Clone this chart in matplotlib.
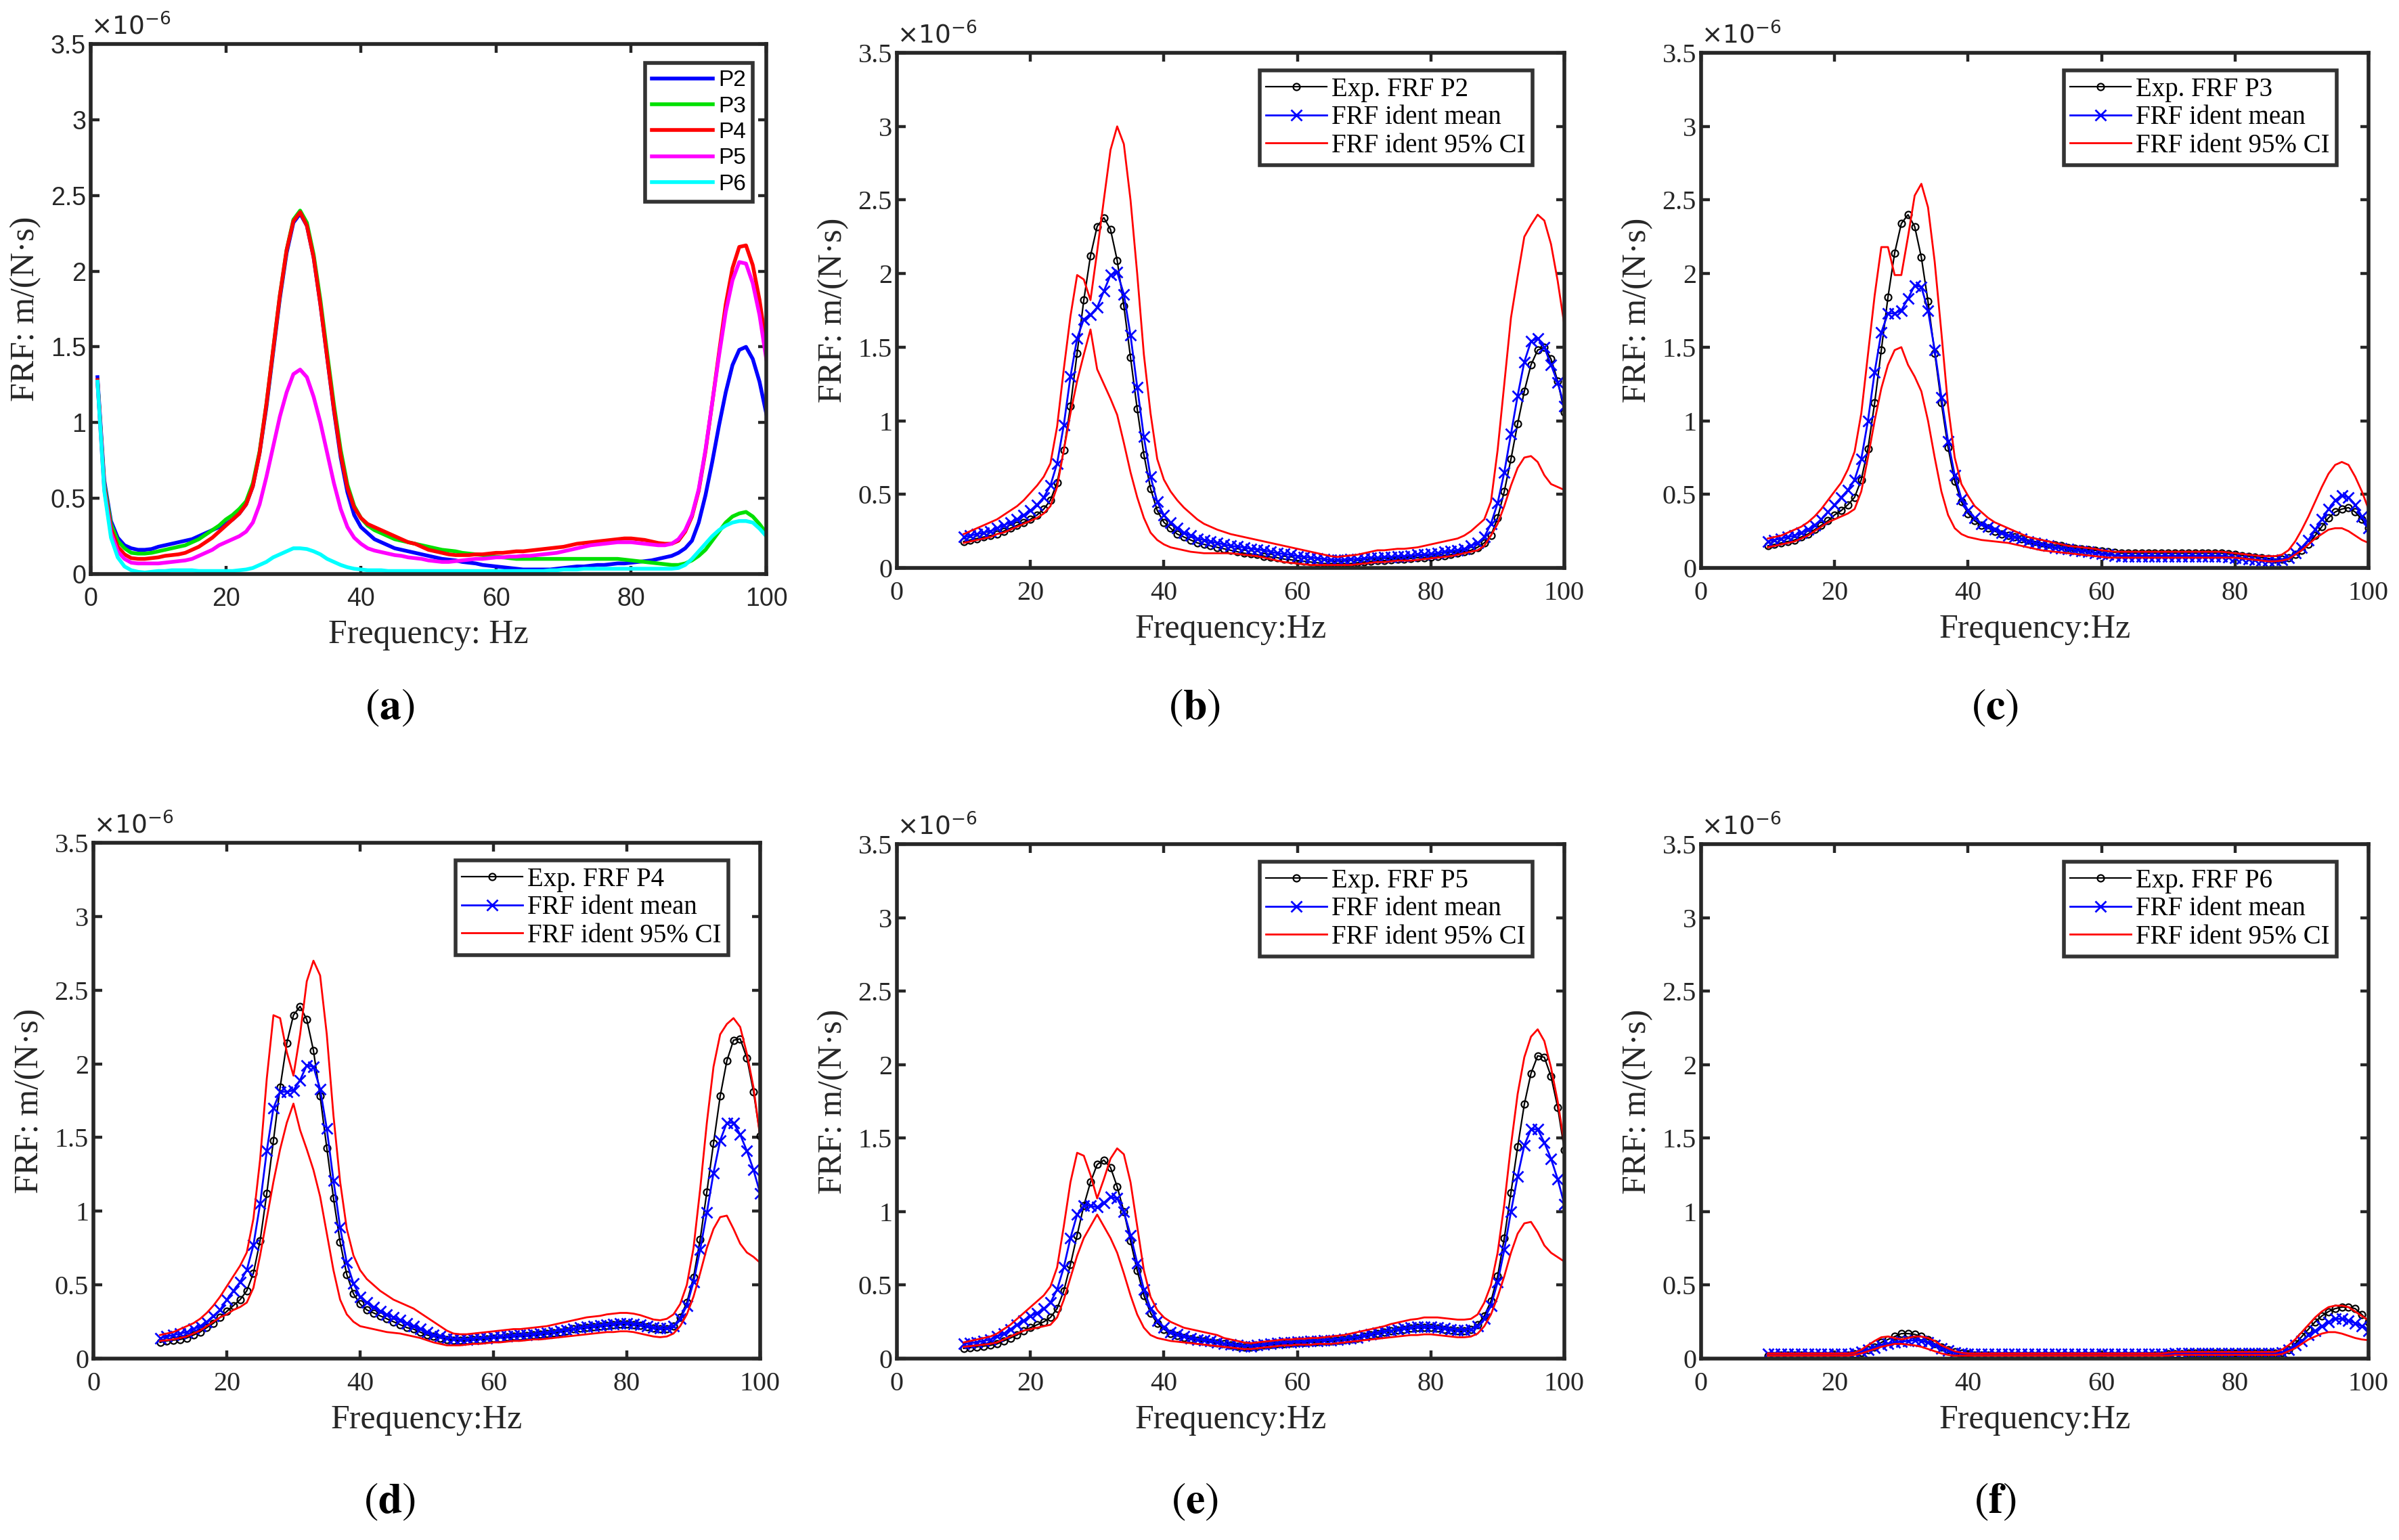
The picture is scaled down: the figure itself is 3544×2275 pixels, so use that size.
"""
Recreate the six-panel FRF comparison figure (experimental vs identified FRF, P2-P6).
"""

import matplotlib

matplotlib.use("Agg")

import matplotlib.pyplot as plt
import numpy as np
from matplotlib.ticker import FuncFormatter

# frequency grids [Hz]: panel (a) uses 1-100 Hz, panels (b)-(f) use 10-100 Hz
FREQ_FULL = np.arange(1, 101)
FREQ_ID = np.arange(10, 101)

# experimental FRF magnitudes, units of 1e-6 m/(N*s), 1..100 Hz
EXP_P2 = [
    1.30, 0.62, 0.35, 0.24, 0.19, 0.17, 0.16, 0.16, 0.165,
    0.18, 0.19, 0.20, 0.21, 0.22, 0.23, 0.25, 0.27, 0.29, 0.31,
    0.33, 0.36, 0.40, 0.46, 0.58, 0.80, 1.10, 1.46, 1.82, 2.12,
    2.32, 2.38, 2.30, 2.09, 1.78, 1.43, 1.08, 0.77, 0.54, 0.39,
    0.31, 0.27, 0.23, 0.21, 0.19, 0.17, 0.16, 0.15, 0.14, 0.13,
    0.12, 0.11, 0.10, 0.095, 0.09, 0.08, 0.075, 0.07, 0.06, 0.055,
    0.05, 0.045, 0.04, 0.035, 0.03, 0.03, 0.03, 0.03, 0.03, 0.035,
    0.04, 0.045, 0.05, 0.05, 0.055, 0.06, 0.06, 0.065, 0.07, 0.07,
    0.075, 0.08, 0.085, 0.09, 0.10, 0.11, 0.12, 0.14, 0.17, 0.22,
    0.34, 0.52, 0.74, 0.98, 1.20, 1.38, 1.48, 1.50, 1.42, 1.27,
    1.06,
]
EXP_P3 = [
    1.28, 0.60, 0.33, 0.22, 0.17, 0.14, 0.135, 0.135, 0.14,
    0.15, 0.16, 0.17, 0.18, 0.19, 0.21, 0.23, 0.26, 0.29, 0.32,
    0.36, 0.39, 0.43, 0.48, 0.60, 0.81, 1.12, 1.48, 1.84, 2.14,
    2.34, 2.40, 2.32, 2.11, 1.81, 1.46, 1.12, 0.82, 0.59, 0.45,
    0.37, 0.32, 0.29, 0.27, 0.25, 0.23, 0.22, 0.21, 0.20, 0.19,
    0.18, 0.17, 0.16, 0.155, 0.15, 0.14, 0.135, 0.13, 0.125, 0.12,
    0.115, 0.11, 0.105, 0.10, 0.10, 0.10, 0.10, 0.10, 0.10, 0.10,
    0.10, 0.10, 0.10, 0.10, 0.10, 0.10, 0.10, 0.10, 0.10, 0.095,
    0.09, 0.085, 0.08, 0.075, 0.07, 0.065, 0.06, 0.06, 0.07, 0.09,
    0.12, 0.16, 0.22, 0.28, 0.34, 0.38, 0.40, 0.41, 0.38, 0.33,
    0.27,
]
EXP_P4 = [
    1.28, 0.58, 0.30, 0.18, 0.13, 0.105, 0.10, 0.10, 0.105,
    0.11, 0.12, 0.125, 0.13, 0.14, 0.16, 0.18, 0.21, 0.24, 0.28,
    0.32, 0.36, 0.40, 0.46, 0.58, 0.80, 1.12, 1.48, 1.84, 2.14,
    2.33, 2.39, 2.30, 2.09, 1.78, 1.43, 1.09, 0.79, 0.57, 0.44,
    0.37, 0.33, 0.31, 0.29, 0.27, 0.25, 0.23, 0.21, 0.20, 0.18,
    0.16, 0.15, 0.14, 0.13, 0.125, 0.125, 0.125, 0.13, 0.13, 0.135,
    0.14, 0.14, 0.145, 0.15, 0.15, 0.155, 0.16, 0.165, 0.17, 0.175,
    0.18, 0.19, 0.20, 0.205, 0.21, 0.215, 0.22, 0.225, 0.23, 0.235,
    0.235, 0.23, 0.225, 0.215, 0.205, 0.20, 0.20, 0.22, 0.28, 0.38,
    0.55, 0.81, 1.13, 1.46, 1.78, 2.02, 2.16, 2.17, 2.04, 1.81,
    1.51,
]
EXP_P5 = [
    1.27, 0.56, 0.27, 0.15, 0.10, 0.075, 0.07, 0.07, 0.07,
    0.07, 0.075, 0.08, 0.085, 0.09, 0.10, 0.12, 0.14, 0.16, 0.19,
    0.21, 0.23, 0.25, 0.28, 0.34, 0.46, 0.64, 0.84, 1.04, 1.20,
    1.32, 1.35, 1.30, 1.17, 1.00, 0.80, 0.60, 0.43, 0.31, 0.24,
    0.20, 0.17, 0.155, 0.145, 0.135, 0.125, 0.12, 0.11, 0.105, 0.10,
    0.09, 0.085, 0.08, 0.08, 0.085, 0.09, 0.095, 0.10, 0.10, 0.105,
    0.11, 0.11, 0.115, 0.115, 0.12, 0.12, 0.125, 0.13, 0.135, 0.14,
    0.15, 0.16, 0.17, 0.18, 0.19, 0.195, 0.20, 0.205, 0.21, 0.21,
    0.21, 0.205, 0.20, 0.195, 0.19, 0.19, 0.20, 0.23, 0.29, 0.39,
    0.56, 0.82, 1.13, 1.44, 1.73, 1.94, 2.06, 2.05, 1.92, 1.71,
    1.42,
]
EXP_P6 = [
    1.27, 0.55, 0.24, 0.11, 0.05, 0.025, 0.015, 0.01, 0.015,
    0.02, 0.02, 0.025, 0.025, 0.025, 0.025, 0.02, 0.02, 0.02, 0.02,
    0.02, 0.02, 0.025, 0.03, 0.04, 0.06, 0.08, 0.11, 0.13, 0.15,
    0.17, 0.17, 0.165, 0.15, 0.13, 0.10, 0.08, 0.06, 0.045, 0.035,
    0.03, 0.025, 0.025, 0.025, 0.02, 0.02, 0.02, 0.02, 0.02, 0.02,
    0.02, 0.02, 0.02, 0.02, 0.02, 0.02, 0.02, 0.02, 0.02, 0.02,
    0.02, 0.02, 0.02, 0.02, 0.02, 0.02, 0.02, 0.02, 0.025, 0.025,
    0.03, 0.03, 0.03, 0.035, 0.035, 0.035, 0.035, 0.035, 0.035, 0.035,
    0.035, 0.035, 0.035, 0.035, 0.035, 0.035, 0.035, 0.04, 0.06, 0.10,
    0.15, 0.20, 0.25, 0.29, 0.32, 0.34, 0.35, 0.35, 0.34, 0.30,
    0.25,
]

# identified FRF mean and 95% CI bounds, 10..100 Hz
MEAN_P2 = [
    0.21, 0.22, 0.23, 0.24, 0.25, 0.27, 0.29, 0.31, 0.33, 0.36,
    0.39, 0.43, 0.48, 0.56, 0.71, 0.97, 1.30, 1.56, 1.69, 1.72,
    1.77, 1.88, 1.99, 2.01, 1.86, 1.58, 1.23, 0.89, 0.62, 0.45,
    0.36, 0.31, 0.27, 0.24, 0.22, 0.20, 0.19, 0.18, 0.17, 0.16,
    0.15, 0.145, 0.14, 0.13, 0.125, 0.12, 0.11, 0.10, 0.095, 0.09,
    0.08, 0.075, 0.07, 0.065, 0.06, 0.055, 0.055, 0.055, 0.06, 0.06,
    0.065, 0.07, 0.07, 0.075, 0.075, 0.08, 0.08, 0.085, 0.09, 0.09,
    0.095, 0.10, 0.11, 0.115, 0.12, 0.13, 0.15, 0.17, 0.21, 0.30,
    0.44, 0.65, 0.91, 1.17, 1.40, 1.54, 1.56, 1.50, 1.38, 1.26,
    1.10,
]
UP_P2 = [
    0.23, 0.25, 0.27, 0.29, 0.31, 0.33, 0.36, 0.39, 0.42, 0.46,
    0.51, 0.56, 0.62, 0.71, 0.96, 1.35, 1.71, 1.99, 1.96, 1.82,
    2.15, 2.50, 2.84, 3.00, 2.88, 2.50, 2.00, 1.45, 1.05, 0.74,
    0.60, 0.52, 0.46, 0.41, 0.37, 0.33, 0.30, 0.28, 0.26, 0.245,
    0.23, 0.22, 0.21, 0.20, 0.19, 0.18, 0.17, 0.16, 0.15, 0.14,
    0.13, 0.12, 0.11, 0.10, 0.09, 0.08, 0.075, 0.08, 0.085, 0.09,
    0.10, 0.11, 0.12, 0.12, 0.125, 0.13, 0.13, 0.135, 0.14, 0.15,
    0.16, 0.17, 0.18, 0.19, 0.20, 0.22, 0.25, 0.29, 0.33, 0.45,
    0.80, 1.25, 1.70, 1.98, 2.25, 2.33, 2.40, 2.36, 2.20, 1.95,
    1.65,
]
LO_P2 = [
    0.17, 0.18, 0.19, 0.20, 0.21, 0.23, 0.24, 0.26, 0.28, 0.30,
    0.32, 0.34, 0.37, 0.42, 0.55, 0.80, 1.05, 1.27, 1.45, 1.62,
    1.35, 1.25, 1.15, 1.04, 0.85, 0.65, 0.48, 0.34, 0.24, 0.19,
    0.16, 0.14, 0.13, 0.12, 0.11, 0.105, 0.10, 0.10, 0.10, 0.10,
    0.10, 0.095, 0.09, 0.085, 0.08, 0.07, 0.06, 0.05, 0.04, 0.035,
    0.03, 0.025, 0.02, 0.02, 0.02, 0.02, 0.02, 0.02, 0.02, 0.025,
    0.03, 0.035, 0.04, 0.04, 0.045, 0.05, 0.05, 0.05, 0.055, 0.06,
    0.065, 0.07, 0.075, 0.08, 0.09, 0.10, 0.11, 0.12, 0.15, 0.22,
    0.30, 0.42, 0.56, 0.68, 0.75, 0.76, 0.72, 0.63, 0.57, 0.55,
    0.53,
]
MEAN_P3 = [
    0.18, 0.19, 0.20, 0.21, 0.22, 0.24, 0.26, 0.29, 0.33, 0.38,
    0.43, 0.48, 0.53, 0.60, 0.74, 1.00, 1.33, 1.60, 1.73, 1.73,
    1.75, 1.83, 1.92, 1.91, 1.75, 1.48, 1.16, 0.86, 0.63, 0.47,
    0.39, 0.34, 0.30, 0.28, 0.26, 0.24, 0.22, 0.21, 0.20, 0.18,
    0.17, 0.16, 0.15, 0.14, 0.135, 0.13, 0.12, 0.115, 0.11, 0.10,
    0.095, 0.09, 0.085, 0.08, 0.08, 0.08, 0.08, 0.08, 0.08, 0.08,
    0.08, 0.08, 0.08, 0.08, 0.08, 0.08, 0.08, 0.08, 0.08, 0.075,
    0.07, 0.065, 0.06, 0.055, 0.05, 0.05, 0.05, 0.055, 0.07, 0.10,
    0.14, 0.19, 0.26, 0.33, 0.40, 0.46, 0.49, 0.48, 0.43, 0.35,
    0.27,
]
UP_P3 = [
    0.20, 0.21, 0.22, 0.24, 0.26, 0.28, 0.31, 0.35, 0.40, 0.46,
    0.52, 0.58, 0.67, 0.79, 1.05, 1.45, 1.85, 2.18, 2.18, 1.99,
    1.99, 2.25, 2.53, 2.61, 2.45, 2.08, 1.60, 1.10, 0.75, 0.57,
    0.49, 0.42, 0.38, 0.34, 0.31, 0.29, 0.27, 0.25, 0.23, 0.21,
    0.20, 0.19, 0.18, 0.17, 0.16, 0.15, 0.145, 0.14, 0.135, 0.13,
    0.12, 0.115, 0.11, 0.11, 0.11, 0.11, 0.11, 0.11, 0.11, 0.11,
    0.11, 0.11, 0.11, 0.11, 0.11, 0.11, 0.11, 0.11, 0.11, 0.105,
    0.10, 0.095, 0.09, 0.085, 0.08, 0.08, 0.08, 0.09, 0.12, 0.18,
    0.26, 0.35, 0.45, 0.55, 0.64, 0.70, 0.72, 0.70, 0.62, 0.52,
    0.40,
]
LO_P3 = [
    0.14, 0.15, 0.16, 0.17, 0.18, 0.20, 0.22, 0.25, 0.28, 0.31,
    0.33, 0.35, 0.37, 0.40, 0.52, 0.75, 1.00, 1.22, 1.38, 1.48,
    1.50, 1.38, 1.30, 1.20, 1.00, 0.75, 0.52, 0.36, 0.27, 0.23,
    0.21, 0.20, 0.19, 0.185, 0.18, 0.175, 0.17, 0.16, 0.15, 0.14,
    0.13, 0.12, 0.115, 0.11, 0.105, 0.10, 0.095, 0.09, 0.085, 0.08,
    0.075, 0.07, 0.07, 0.07, 0.07, 0.07, 0.07, 0.07, 0.07, 0.07,
    0.07, 0.07, 0.07, 0.07, 0.07, 0.07, 0.07, 0.07, 0.07, 0.07,
    0.07, 0.065, 0.06, 0.055, 0.05, 0.045, 0.045, 0.05, 0.06, 0.09,
    0.12, 0.16, 0.20, 0.23, 0.26, 0.27, 0.27, 0.25, 0.22, 0.19,
    0.17,
]
MEAN_P4 = [
    0.14, 0.15, 0.16, 0.17, 0.18, 0.20, 0.22, 0.25, 0.29, 0.33,
    0.40, 0.46, 0.52, 0.60, 0.77, 1.05, 1.41, 1.70, 1.81, 1.81,
    1.82, 1.89, 1.99, 1.98, 1.83, 1.56, 1.21, 0.89, 0.65, 0.51,
    0.42, 0.38, 0.35, 0.32, 0.30, 0.28, 0.26, 0.24, 0.22, 0.20,
    0.18, 0.16, 0.15, 0.14, 0.135, 0.13, 0.13, 0.135, 0.14, 0.14,
    0.145, 0.15, 0.15, 0.155, 0.16, 0.16, 0.165, 0.17, 0.175, 0.18,
    0.19, 0.195, 0.20, 0.21, 0.215, 0.22, 0.225, 0.23, 0.235, 0.24,
    0.24, 0.235, 0.23, 0.22, 0.21, 0.205, 0.205, 0.22, 0.27, 0.36,
    0.52, 0.74, 0.99, 1.26, 1.48, 1.60, 1.60, 1.52, 1.41, 1.28,
    1.12,
]
UP_P4 = [
    0.16, 0.17, 0.18, 0.20, 0.22, 0.24, 0.27, 0.31, 0.36, 0.42,
    0.49, 0.56, 0.63, 0.72, 0.95, 1.35, 1.90, 2.33, 2.31, 2.08,
    1.92, 2.20, 2.56, 2.70, 2.60, 2.20, 1.65, 1.20, 0.88, 0.70,
    0.60, 0.54, 0.50, 0.46, 0.43, 0.40, 0.38, 0.36, 0.34, 0.31,
    0.28, 0.25, 0.22, 0.19, 0.17, 0.165, 0.165, 0.17, 0.175, 0.18,
    0.185, 0.19, 0.195, 0.20, 0.20, 0.205, 0.21, 0.215, 0.22, 0.23,
    0.24, 0.25, 0.26, 0.27, 0.28, 0.285, 0.29, 0.30, 0.305, 0.31,
    0.31, 0.305, 0.295, 0.28, 0.265, 0.26, 0.27, 0.30, 0.37, 0.50,
    0.75, 1.15, 1.60, 1.98, 2.20, 2.27, 2.31, 2.25, 2.07, 1.84,
    1.50,
]
LO_P4 = [
    0.12, 0.125, 0.13, 0.14, 0.15, 0.17, 0.19, 0.22, 0.25, 0.28,
    0.30, 0.33, 0.35, 0.38, 0.48, 0.70, 0.95, 1.20, 1.42, 1.60,
    1.73, 1.55, 1.42, 1.28, 1.10, 0.85, 0.60, 0.40, 0.30, 0.25,
    0.22, 0.21, 0.20, 0.19, 0.18, 0.175, 0.17, 0.16, 0.15, 0.14,
    0.125, 0.11, 0.10, 0.09, 0.09, 0.09, 0.095, 0.10, 0.10, 0.105,
    0.11, 0.11, 0.115, 0.12, 0.12, 0.125, 0.13, 0.13, 0.135, 0.14,
    0.145, 0.15, 0.155, 0.16, 0.165, 0.17, 0.175, 0.18, 0.18, 0.185,
    0.185, 0.18, 0.17, 0.16, 0.15, 0.145, 0.15, 0.17, 0.22, 0.30,
    0.42, 0.58, 0.75, 0.88, 0.96, 0.97, 0.88, 0.78, 0.72, 0.69,
    0.65,
]
MEAN_P5 = [
    0.10, 0.105, 0.11, 0.12, 0.13, 0.15, 0.17, 0.20, 0.23, 0.26,
    0.29, 0.31, 0.34, 0.38, 0.47, 0.62, 0.82, 0.98, 1.04, 1.04,
    1.03, 1.06, 1.10, 1.09, 1.00, 0.84, 0.65, 0.47, 0.34, 0.26,
    0.21, 0.18, 0.165, 0.15, 0.14, 0.13, 0.125, 0.12, 0.11, 0.10,
    0.095, 0.09, 0.085, 0.085, 0.09, 0.095, 0.10, 0.105, 0.11, 0.11,
    0.115, 0.115, 0.12, 0.12, 0.125, 0.125, 0.13, 0.135, 0.14, 0.145,
    0.155, 0.165, 0.175, 0.185, 0.19, 0.20, 0.205, 0.21, 0.215, 0.215,
    0.215, 0.21, 0.205, 0.20, 0.195, 0.195, 0.20, 0.22, 0.27, 0.36,
    0.52, 0.74, 1.00, 1.24, 1.45, 1.56, 1.56, 1.47, 1.36, 1.22,
    1.05,
]
UP_P5 = [
    0.11, 0.12, 0.13, 0.14, 0.15, 0.17, 0.20, 0.23, 0.27, 0.31,
    0.35, 0.39, 0.43, 0.49, 0.62, 0.90, 1.20, 1.40, 1.38, 1.25,
    1.09, 1.22, 1.36, 1.43, 1.39, 1.20, 0.90, 0.60, 0.42, 0.33,
    0.28, 0.25, 0.23, 0.21, 0.20, 0.19, 0.18, 0.17, 0.16, 0.14,
    0.13, 0.12, 0.11, 0.105, 0.11, 0.115, 0.12, 0.125, 0.13, 0.13,
    0.135, 0.135, 0.14, 0.14, 0.145, 0.15, 0.155, 0.16, 0.17, 0.18,
    0.19, 0.20, 0.21, 0.22, 0.235, 0.245, 0.255, 0.265, 0.27, 0.28,
    0.28, 0.28, 0.275, 0.27, 0.265, 0.265, 0.27, 0.30, 0.38, 0.50,
    0.72, 1.05, 1.45, 1.80, 2.05, 2.19, 2.24, 2.16, 1.98, 1.75,
    1.46,
]
LO_P5 = [
    0.08, 0.085, 0.09, 0.095, 0.10, 0.11, 0.13, 0.15, 0.17, 0.19,
    0.20, 0.21, 0.22, 0.23, 0.28, 0.40, 0.55, 0.70, 0.82, 0.90,
    0.98, 0.90, 0.82, 0.72, 0.58, 0.43, 0.30, 0.21, 0.16, 0.14,
    0.13, 0.12, 0.115, 0.11, 0.105, 0.10, 0.095, 0.09, 0.085, 0.08,
    0.075, 0.07, 0.065, 0.065, 0.07, 0.075, 0.08, 0.085, 0.09, 0.09,
    0.095, 0.095, 0.095, 0.10, 0.10, 0.10, 0.105, 0.11, 0.115, 0.12,
    0.125, 0.13, 0.135, 0.14, 0.145, 0.15, 0.155, 0.16, 0.16, 0.165,
    0.165, 0.16, 0.155, 0.15, 0.145, 0.145, 0.15, 0.17, 0.22, 0.30,
    0.42, 0.56, 0.72, 0.85, 0.92, 0.93, 0.86, 0.77, 0.72, 0.69,
    0.66,
]
MEAN_P6 = [
    0.03, 0.03, 0.03, 0.03, 0.03, 0.03, 0.03, 0.03, 0.03, 0.03,
    0.03, 0.03, 0.03, 0.035, 0.045, 0.06, 0.075, 0.09, 0.10, 0.11,
    0.115, 0.12, 0.125, 0.12, 0.11, 0.09, 0.07, 0.055, 0.04, 0.035,
    0.03, 0.03, 0.03, 0.03, 0.03, 0.03, 0.03, 0.03, 0.03, 0.03,
    0.03, 0.03, 0.03, 0.03, 0.03, 0.03, 0.03, 0.03, 0.03, 0.03,
    0.03, 0.03, 0.03, 0.03, 0.03, 0.03, 0.03, 0.03, 0.03, 0.03,
    0.03, 0.035, 0.035, 0.035, 0.035, 0.035, 0.035, 0.035, 0.035, 0.035,
    0.035, 0.035, 0.035, 0.035, 0.035, 0.035, 0.035, 0.04, 0.06, 0.09,
    0.12, 0.16, 0.19, 0.22, 0.25, 0.27, 0.27, 0.26, 0.24, 0.22,
    0.19,
]
UP_P6 = [
    0.035, 0.035, 0.035, 0.035, 0.035, 0.035, 0.035, 0.035, 0.035, 0.035,
    0.035, 0.035, 0.035, 0.04, 0.06, 0.09, 0.12, 0.145, 0.15, 0.14,
    0.13, 0.14, 0.15, 0.15, 0.14, 0.12, 0.09, 0.07, 0.05, 0.04,
    0.035, 0.035, 0.035, 0.035, 0.035, 0.035, 0.035, 0.035, 0.035, 0.035,
    0.035, 0.035, 0.035, 0.035, 0.035, 0.035, 0.035, 0.035, 0.035, 0.035,
    0.035, 0.035, 0.035, 0.035, 0.035, 0.035, 0.035, 0.035, 0.035, 0.035,
    0.04, 0.045, 0.045, 0.045, 0.045, 0.045, 0.045, 0.045, 0.045, 0.045,
    0.045, 0.045, 0.045, 0.045, 0.045, 0.045, 0.045, 0.06, 0.09, 0.13,
    0.18, 0.23, 0.28, 0.32, 0.35, 0.36, 0.36, 0.35, 0.32, 0.29,
    0.26,
]
LO_P6 = [
    0.02, 0.02, 0.02, 0.02, 0.02, 0.02, 0.02, 0.02, 0.02, 0.02,
    0.02, 0.02, 0.02, 0.025, 0.035, 0.05, 0.065, 0.08, 0.09, 0.10,
    0.10, 0.095, 0.09, 0.08, 0.065, 0.05, 0.035, 0.025, 0.02, 0.02,
    0.02, 0.02, 0.02, 0.02, 0.02, 0.02, 0.02, 0.02, 0.02, 0.02,
    0.02, 0.02, 0.02, 0.02, 0.02, 0.02, 0.02, 0.02, 0.02, 0.02,
    0.02, 0.02, 0.02, 0.02, 0.02, 0.02, 0.02, 0.02, 0.02, 0.02,
    0.02, 0.025, 0.025, 0.025, 0.025, 0.025, 0.025, 0.025, 0.025, 0.025,
    0.025, 0.025, 0.025, 0.025, 0.025, 0.025, 0.025, 0.03, 0.05, 0.07,
    0.10, 0.13, 0.15, 0.17, 0.18, 0.18, 0.17, 0.155, 0.14, 0.13,
    0.125,
]

POINT_LABELS = ["P2", "P3", "P4", "P5", "P6"]
POINT_COLORS = ["#0000ff", "#00e000", "#ff0000", "#ff00ff", "#00ffff"]

W, H = 3544, 2275
INK = "#262626"
SERIF = "Liberation Serif"
SANS = "Liberation Sans"


def px_rect(x0, y0, x1, y1):
    return [x0 / W, 1 - y1 / H, (x1 - x0) / W, (y1 - y0) / H]


def style_axes(ax, sans_ticks=False):
    ax.set_xlim(0, 100)
    ax.set_ylim(0, 3.5)
    ax.set_xticks(range(0, 101, 20))
    ax.set_yticks(np.arange(0, 3.51, 0.5))
    ax.yaxis.set_major_formatter(FuncFormatter(lambda v, p: f"{v:g}"))
    ax.tick_params(which="both", direction="in", top=True, right=True,
                   length=4.5, width=1.6, color=INK, labelcolor=INK,
                   labelsize=13.5 if sans_ticks else 14.5)
    ax.tick_params(axis="x", pad=7)
    ax.tick_params(axis="y", pad=2.5)
    fam = SANS if sans_ticks else SERIF
    for lab in ax.get_xticklabels() + ax.get_yticklabels():
        lab.set_fontfamily(fam)
    for sp in ax.spines.values():
        sp.set_linewidth(2.0)
        sp.set_color(INK)
    ax.text(0.0, 1.008, r"$\times10^{-6}$", transform=ax.transAxes,
            ha="left", va="bottom", fontsize=13.5, color=INK,
            math_fontfamily="dejavusans")
    ax.set_ylabel("FRF: m/(N\u00b7s)", fontsize=18, fontfamily=SERIF,
                  color=INK, labelpad=5)


def draw_overview(ax):
    exps = [EXP_P2, EXP_P3, EXP_P4, EXP_P5, EXP_P6]
    for vals, lab, col in zip(exps, POINT_LABELS, POINT_COLORS):
        ax.plot(FREQ_FULL, vals, color=col, linewidth=2.0, label=lab)
    style_axes(ax, sans_ticks=True)
    ax.set_xlabel("Frequency: Hz", fontsize=18, fontfamily=SERIF,
                  color=INK, labelpad=4)
    leg = ax.legend(loc="upper right", bbox_to_anchor=(0.980, 0.964),
                    borderaxespad=0, frameon=True, fancybox=False,
                    prop={"family": SANS, "size": 12}, handlelength=2.7,
                    handletextpad=0.25, labelspacing=0.22, borderpad=0.3)
    leg.get_frame().set_edgecolor("black")
    leg.get_frame().set_linewidth(2.0)


def draw_ident(ax, exp_full, mean, up, lo, name):
    exp = exp_full[9:]
    ax.plot(FREQ_ID, exp, color="black", linewidth=0.8, marker="o",
            markersize=3.6, markerfacecolor="none", markeredgewidth=0.8,
            label=f"Exp. FRF {name}")
    ax.plot(FREQ_ID, mean, color="#0000ff", linewidth=1.0, marker="x",
            markersize=5.5, markeredgewidth=1.0, label="FRF ident mean")
    ax.plot(FREQ_ID, up, color="#ff0000", linewidth=1.0,
            label="FRF ident 95% CI")
    ax.plot(FREQ_ID, lo, color="#ff0000", linewidth=1.0)
    style_axes(ax)
    ax.set_xlabel("Frequency:Hz", fontsize=18, fontfamily=SERIF, color=INK,
                  labelpad=4)
    leg = ax.legend(loc="upper right", bbox_to_anchor=(0.952, 0.966),
                    borderaxespad=0, frameon=True, fancybox=False,
                    prop={"family": SERIF, "size": 14}, handlelength=2.3,
                    handletextpad=0.2, labelspacing=0.12, borderpad=0.25)
    leg.get_frame().set_edgecolor("black")
    leg.get_frame().set_linewidth(2.0)


def main():
    plt.rcParams["font.family"] = SERIF
    fig = plt.figure(figsize=(W / 200, H / 200), dpi=200, facecolor="white")

    ax_a = fig.add_axes(px_rect(134, 65, 1132, 848))
    draw_overview(ax_a)

    panels = [
        ((1325, 78, 2311, 839), EXP_P2, MEAN_P2, UP_P2, LO_P2, "P2"),
        ((2513, 78, 3499, 839), EXP_P3, MEAN_P3, UP_P3, LO_P3, "P3"),
        ((138, 1245, 1123, 2007), EXP_P4, MEAN_P4, UP_P4, LO_P4, "P4"),
        ((1325, 1247, 2311, 2007), EXP_P5, MEAN_P5, UP_P5, LO_P5, "P5"),
        ((2513, 1247, 3499, 2007), EXP_P6, MEAN_P6, UP_P6, LO_P6, "P6"),
    ]
    for rect, exp, mean, up, lo, name in panels:
        ax = fig.add_axes(px_rect(*rect))
        draw_ident(ax, exp, mean, up, lo, name)

    captions = [("a", 576, 1046), ("b", 1765, 1046), ("c", 2947, 1046),
                ("d", 576, 2219), ("e", 1765, 2219), ("f", 2947, 2219)]
    for letter, cx, cy in captions:
        fig.text(cx / W, 1 - cy / H, rf"$(\mathbf{{{letter}}})$", ha="center",
                 va="center", fontsize=23, color="black",
                 math_fontfamily="stix")

    fig.savefig("out.png", dpi=200, facecolor="white")
    plt.close(fig)


if __name__ == "__main__":
    main()
